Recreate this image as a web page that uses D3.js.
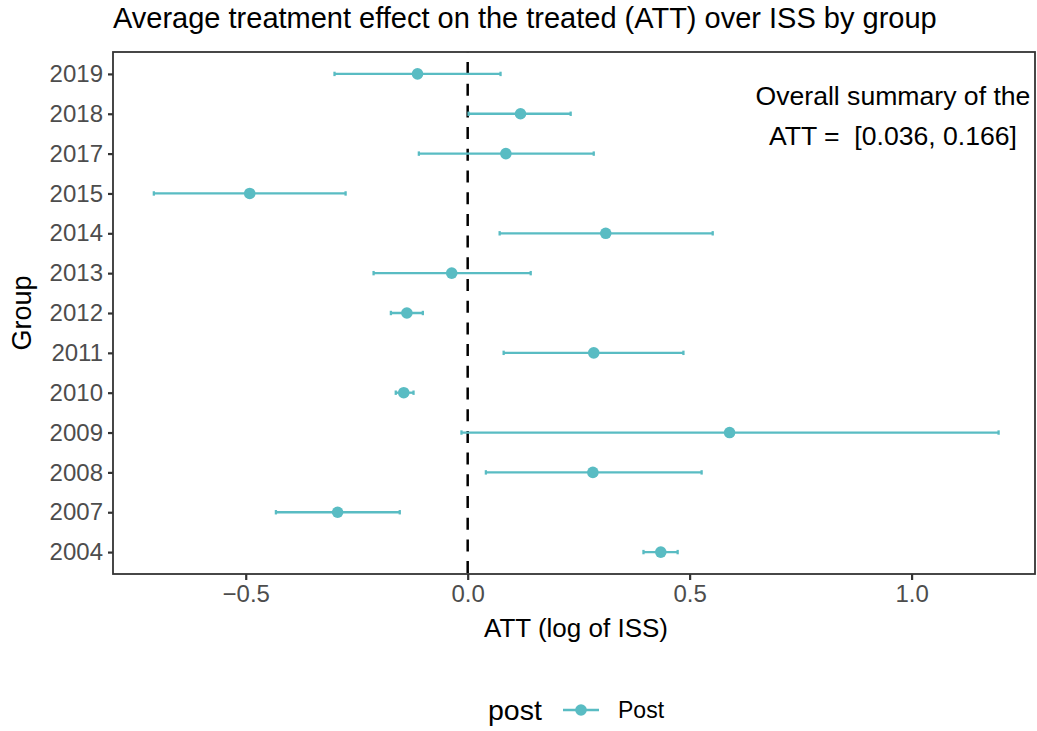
<!DOCTYPE html>
<html>
<head>
<meta charset="utf-8">
<script src="https://cdn.jsdelivr.net/npm/d3@7"></script>
<style>
  body { margin: 0; background: #fff; }
  text { font-family: "Liberation Sans", Arial, sans-serif; }
</style>
</head>
<body>
<div id="chart"></div>
<script>
// values
var groups = ["2019", "2018", "2017", "2015", "2014", "2013", "2012", "2011", "2010", "2009", "2008", "2007", "2004"];
var att   = [-0.113, 0.119, 0.086, -0.491, 0.311, -0.036, -0.137, 0.284, -0.144, 0.590, 0.282, -0.293, 0.435];
var lower = [-0.300, 0.002, -0.110, -0.707, 0.072, -0.212, -0.173, 0.081, -0.162, -0.014, 0.041, -0.432, 0.396];
var upper = [0.074, 0.232, 0.284, -0.275, 0.552, 0.142, -0.101, 0.486, -0.122, 1.196, 0.527, -0.153, 0.473];
var xTicks = [-0.5, 0.0, 0.5, 1.0];
var summaryLines = ["Overall summary of the", "ATT =  [0.036, 0.166]"];

var W = 1037, H = 731;
var margin = {top: 52, right: 2, bottom: 157, left: 113};
var width = W - margin.left - margin.right,
    height = H - margin.top - margin.bottom;
var col = "#59bcc3";

var svg = d3.select("#chart").append("svg")
    .attr("width", W).attr("height", H);

// title
svg.append("text")
    .attr("x", margin.left).attr("y", 28)
    .attr("font-size", "29px").attr("fill", "#000")
    .text("Average treatment effect on the treated (ATT) over ISS by group");

var g = svg.append("g")
    .attr("transform", "translate(" + margin.left + "," + margin.top + ")");

var x = d3.scaleLinear()
    .domain([-0.799, 1.278])
    .range([0, width]);

var y = d3.scalePoint()
    .domain(groups)
    .range([0, height])
    .padding(0.55);

var rows = groups.map(function(d, i) {
  return {g: d, v: att[i], lo: lower[i], hi: upper[i]};
});

// axes
var xAxis = g.append("g")
    .attr("transform", "translate(0," + height + ")")
    .call(d3.axisBottom(x).tickValues(xTicks).tickFormat(d3.format(".1f")).tickSize(6).tickPadding(5));
var yAxis = g.append("g")
    .call(d3.axisLeft(y).tickSize(5).tickPadding(5));

[xAxis, yAxis].forEach(function(a) {
  a.select(".domain").remove();
  a.selectAll("line").attr("stroke", "#333").attr("stroke-width", 2.2);
  a.selectAll("text").attr("fill", "#4d4d4d").attr("font-size", "24px")
    .attr("font-family", "Liberation Sans, Arial, sans-serif");
});
xAxis.selectAll("text").attr("dy", "0.72em")
    .text(function(d) { return d < 0 ? "\u2212" + Math.abs(d).toFixed(1) : d.toFixed(1); });

// zero line
g.append("line")
    .attr("x1", x(0)).attr("x2", x(0))
    .attr("y1", 0).attr("y2", height)
    .attr("stroke", "#000").attr("stroke-width", 2.5)
    .attr("stroke-dasharray", "12,9.7")
    .attr("stroke-dashoffset", 11.7);

// error bars
var bars = g.selectAll(".bar").data(rows).enter().append("g").attr("class", "bar");
bars.append("line")
    .attr("x1", function(d) { return x(d.lo); })
    .attr("x2", function(d) { return x(d.hi); })
    .attr("y1", function(d) { return y(d.g); })
    .attr("y2", function(d) { return y(d.g); })
    .attr("stroke", col).attr("stroke-width", 2.3);
bars.selectAll(".cap").data(function(d) { return [[d.lo, d.g], [d.hi, d.g]]; })
  .enter().append("line")
    .attr("x1", function(d) { return x(d[0]); })
    .attr("x2", function(d) { return x(d[0]); })
    .attr("y1", function(d) { return y(d[1]) - 2.2; })
    .attr("y2", function(d) { return y(d[1]) + 2.2; })
    .attr("stroke", col).attr("stroke-width", 2.3);
bars.append("circle")
    .attr("cx", function(d) { return x(d.v); })
    .attr("cy", function(d) { return y(d.g); })
    .attr("r", 5.8).attr("fill", col);

// panel border
g.append("rect")
    .attr("width", width).attr("height", height)
    .attr("fill", "none").attr("stroke", "#333").attr("stroke-width", 1.8);

// annotation
var ann = g.append("text")
    .attr("text-anchor", "middle")
    .attr("font-size", "26.6px")
    .attr("fill", "#000").style("white-space", "pre");
summaryLines.forEach(function(s, i) {
  ann.append("tspan")
    .attr("x", x(0.958)).attr("y", 53 + i * 40)
    .text(s);
});

// axis titles
svg.append("text")
    .attr("x", 576).attr("y", 637)
    .attr("text-anchor", "middle").attr("font-size", "26px")
    .text("ATT (log of ISS)");
svg.append("text")
    .attr("transform", "translate(31," + (margin.top + height / 2) + ") rotate(-90)")
    .attr("text-anchor", "middle").attr("font-size", "27px")
    .text("Group");

// legend
var lg = svg.append("g").attr("transform", "translate(488,710)");
lg.append("text").attr("x", 0).attr("y", 10).attr("font-size", "28.5px").text("post");
lg.append("line").attr("x1", 75).attr("x2", 111).attr("y1", 0).attr("y2", 0)
    .attr("stroke", col).attr("stroke-width", 2.3);
lg.append("circle").attr("cx", 93).attr("cy", 0).attr("r", 5.8).attr("fill", col);
lg.append("text").attr("x", 130).attr("y", 8).attr("font-size", "23px").text("Post");
</script>
</body>
</html>
